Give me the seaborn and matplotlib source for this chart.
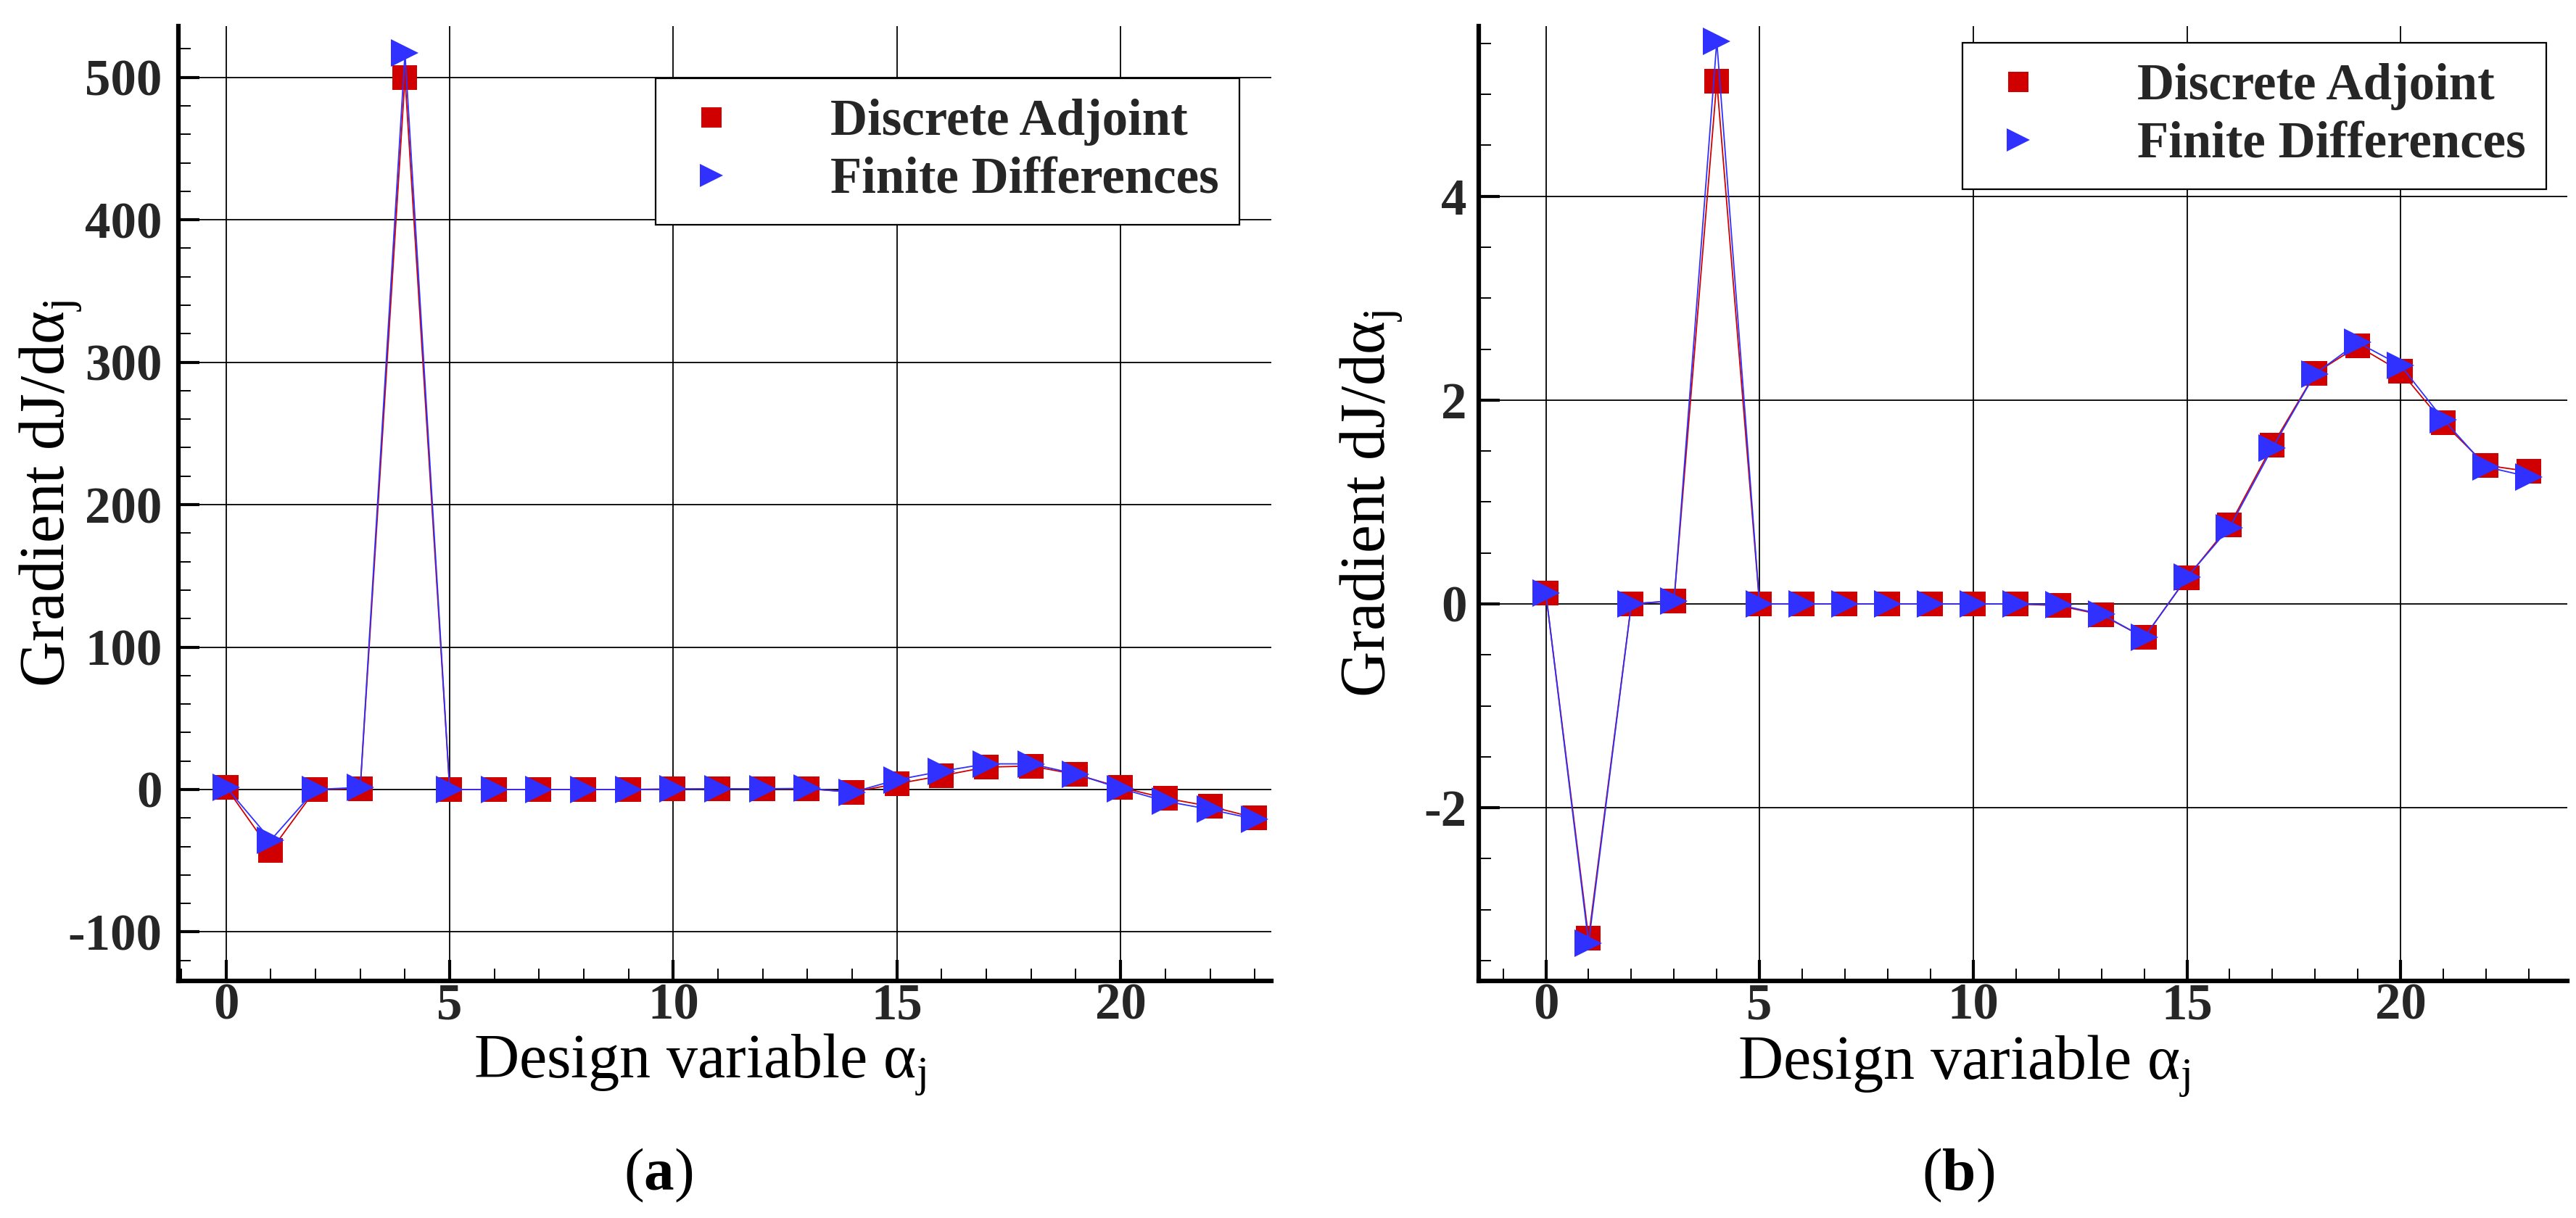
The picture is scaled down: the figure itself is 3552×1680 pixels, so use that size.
import numpy as np
import pandas as pd
import seaborn as sns
import matplotlib
matplotlib.use("Agg")
import matplotlib.pyplot as plt
from matplotlib.lines import Line2D
from matplotlib.ticker import MultipleLocator
from matplotlib.font_manager import FontProperties

# ---------------- data ----------------
design_vars = list(range(24))

adjoint_a = [1.5, -43.0, 0.0, 0.7, 500.0, 0.0, 0.0, 0.0, 0.0, 0.0, 0.3, 0.5,
             0.5, 0.5, -1.8, 4.0, 9.7, 15.7, 16.5, 10.6, 1.5, -6.1, -11.8, -19.8]
findiff_a = [1.7, -35.5, 0.0, 1.5, 517.0, 0.0, 0.0, 0.0, 0.0, 0.0, 0.3, 0.5,
             0.5, 0.8, -2.0, 6.8, 12.8, 18.0, 18.0, 10.9, 0.7, -8.2, -14.0, -20.8]

adjoint_b = [0.108, -3.28, 0.0, 0.03, 5.13, 0.0, 0.0, 0.0, 0.0, 0.0, 0.0, 0.0,
             -0.017, -0.107, -0.33, 0.256, 0.773, 1.556, 2.263, 2.529, 2.282, 1.777, 1.36, 1.30]
findiff_b = [0.108, -3.33, 0.0, 0.03, 5.52, 0.0, 0.0, 0.0, 0.0, 0.0, 0.0, 0.0,
             -0.01, -0.10, -0.33, 0.26, 0.75, 1.53, 2.258, 2.565, 2.34, 1.81, 1.345, 1.248]

series_names = ["Discrete Adjoint", "Finite Differences"]
xticks_major = [0, 5, 10, 15, 20]
xtick_labels = ["0", "5", "10", "15", "20"]
yticks_a = [-100, 0, 100, 200, 300, 400, 500]
ytick_labels_a = ["-100", "0", "100", "200", "300", "400", "500"]
yticks_b = [-2, 0, 2, 4]
ytick_labels_b = ["-2", "0", "2", "4"]
captions = ["(a)", "(b)"]

# ---------------- style ----------------
sns.set_theme(style="white")
plt.rcParams["font.family"] = ["Liberation Serif", "DejaVu Serif"]
plt.rcParams["mathtext.fontset"] = "custom"
plt.rcParams["mathtext.rm"] = "Liberation Serif"
plt.rcParams["mathtext.it"] = "Liberation Serif:italic"
plt.rcParams["mathtext.bf"] = "Liberation Serif:bold"
plt.rcParams["axes.unicode_minus"] = False

RED = "#D00000"
BLUE = "#3030FF"

W, H = 3552, 1680
fig = plt.figure(figsize=(W / 100, H / 100), dpi=100)
fig.patch.set_facecolor("white")

ax1 = fig.add_axes([246 / W, 1 - 1353 / H, 1507 / W, 1317 / H])
ax2 = fig.add_axes([2039 / W, 1 - 1353 / H, 1501 / W, 1317 / H])

panels = [
    dict(ax=ax1, da=adjoint_a, fd=findiff_a, yt=yticks_a, ytl=ytick_labels_a,
         ylim=(-134.4, 536), xlim=(-1.066, 23.37), yminor=20,
         leg=(0.4366, 0.9453), ylab=(-0.087, 0.51), xlab=(0.477, -0.053),
         ypad=16, cap=(908, captions[0])),
    dict(ax=ax2, da=adjoint_b, fd=findiff_b, yt=yticks_b, ytl=ytick_labels_b,
         ylim=(-3.70, 5.67), xlim=(-1.57, 23.9), yminor=0.5,
         leg=(0.4444, 0.9825), ylab=(-0.0686, 0.50), xlab=(0.4457, -0.055),
         ypad=12, cap=(2700, captions[1])),
]

tick_font = dict(fontsize=51, fontweight="bold", family="Liberation Serif")

for p in panels:
    ax = p["ax"]
    ax.set_facecolor("white")
    ax.set_axisbelow(True)
    sns.lineplot(x=design_vars, y=p["da"], ax=ax, color=RED, marker="s",
                 markersize=24, markeredgewidth=0, linewidth=1.3,
                 sort=False, errorbar=None, legend=False, zorder=3)
    sns.lineplot(x=design_vars, y=p["fd"], ax=ax, color=BLUE, marker=">",
                 markersize=27, markeredgewidth=0, linewidth=1.3,
                 sort=False, errorbar=None, legend=False, zorder=4)

    ax.set_xlim(*p["xlim"])
    ax.set_ylim(*p["ylim"])

    ax.set_xticks(xticks_major, xtick_labels, **tick_font)
    ax.set_yticks(p["yt"], p["ytl"], **tick_font)
    ax.xaxis.set_minor_locator(MultipleLocator(1))
    ax.yaxis.set_minor_locator(MultipleLocator(p["yminor"]))

    ax.tick_params(axis="both", which="major", direction="in", length=21,
                   width=3, color="black", bottom=True, left=True,
                   top=False, right=False)
    ax.tick_params(axis="both", which="minor", direction="in", length=12,
                   width=1.4, color="black", bottom=True, left=True,
                   top=False, right=False)
    ax.tick_params(axis="x", which="major", pad=2)
    ax.tick_params(axis="y", which="major", pad=p["ypad"])

    ax.grid(True, which="major", color="black", linewidth=1.3)
    ax.grid(False, which="minor")

    for side in ["top", "right"]:
        ax.spines[side].set_visible(False)
    for side in ["left", "bottom"]:
        ax.spines[side].set_visible(True)
        ax.spines[side].set_color("black")
        ax.spines[side].set_linewidth(4.5)

    ax.set_xlabel(r"Design variable α$_\mathrm{j}$", fontsize=62, color="black")
    ax.set_ylabel(r"Gradient dJ/dα$_\mathrm{j}$", fontsize=63, color="black")
    ax.xaxis.set_label_coords(*p["xlab"])
    ax.yaxis.set_label_coords(*p["ylab"])

    handles = [
        Line2D([], [], linestyle="none", marker="s", color=RED,
               markersize=20, markeredgewidth=0),
        Line2D([], [], linestyle="none", marker=">", color=BLUE,
               markersize=23, markeredgewidth=0),
    ]
    leg = ax.legend(handles, series_names, loc="upper left",
                    bbox_to_anchor=p["leg"], bbox_transform=ax.transAxes,
                    prop=FontProperties(family="Liberation Serif",
                                        weight="bold", size=51),
                    frameon=True, fancybox=False, framealpha=1,
                    edgecolor="black", facecolor="white",
                    borderpad=0.4, handlelength=1.38, handletextpad=1.62,
                    labelspacing=0.22, borderaxespad=0)
    leg.get_frame().set_linewidth(1.6)
    leg.set_zorder(10)

    cx, ctext = p["cap"]
    letter = ctext.strip("()")
    fig.text(cx / W, 1 - 1621 / H, r"($\mathbf{" + letter + r"}$)",
             ha="center", va="center", fontsize=60, color="black")

fig.savefig("out.png", dpi=100, facecolor="white")
